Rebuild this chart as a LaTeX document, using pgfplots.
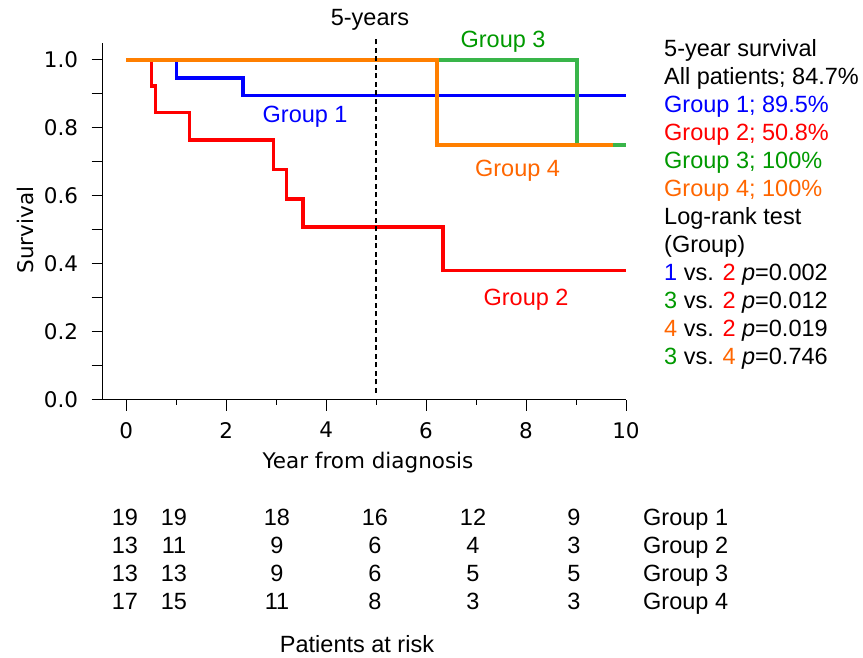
\documentclass[border=0pt]{standalone}
\usepackage{fontspec}
\setmainfont{Liberation Sans}
\newfontfamily\tickfont{DejaVu Sans}
\usepackage{pgfplots}
\pgfplotsset{compat=1.18}
\definecolor{cblue}{RGB}{0,0,255}
\definecolor{cred}{RGB}{255,0,0}
\definecolor{cgreen}{RGB}{57,181,74}
\definecolor{corange}{RGB}{255,127,0}
\definecolor{tgreen}{RGB}{0,153,0}
\definecolor{torange}{RGB}{255,102,0}
\newcommand{\lf}{\fontsize{23.5}{28}\selectfont}
\newcommand{\tf}{\tickfont\fontsize{21.5}{25}\selectfont}
\begin{document}
\begin{tikzpicture}[x=1pt,y=1pt]
\useasboundingbox (0,0) rectangle (863,658);
\begin{axis}[
  at={(102.7pt,258.3pt)}, anchor=south west,
  scale only axis, width=523.3pt, height=356.7pt,
  xmin=-0.47, xmax=10, ymin=0, ymax=1.05,
  axis x line=bottom, axis y line=left,
  axis line style={-, line width=1pt, black},
  tick style={black, line width=1pt},
  tick align=outside,
  major tick length=11pt, minor tick length=5pt,
  xtick={0,2,4,6,8,10}, minor xtick={1,3,5,7,9},
  ytick={0,0.2,0.4,0.6,0.8,1.0},
  extra y ticks={0.1,0.3,0.5,0.7,0.9}, extra y tick labels={},
  yticklabel style={xshift=-10pt, /pgf/number format/.cd, fixed, fixed zerofill, precision=1},
  xticklabel style={yshift=-8pt},
  ticklabel style={font=\tf},
  /pgf/number format/assume math mode=true,
  clip=false,
]
\addplot[cred, line width=3.3pt, const plot] coordinates {
  (0,1) (0.51,0.923) (0.58,0.846) (1.26,0.764) (2.95,0.677) (3.21,0.591) (3.54,0.508) (6.34,0.381) (10,0.381)};
\addplot[cblue, line width=3.3pt, const plot] coordinates {
  (0,1) (1.01,0.947) (2.34,0.895) (10,0.895)};
\addplot[cgreen, line width=3.3pt, const plot] coordinates {
  (0,1) (9.02,0.75) (10,0.75)};
\addplot[corange, line width=3.3pt, const plot] coordinates {
  (0,1) (6.22,0.75) (9.73,0.75)};
\addplot[black, line width=1.3pt, dash pattern=on 5pt off 3.5pt] coordinates {(5,0.02) (5,1.07)};
\node[text=cblue, font=\lf] at (axis cs:3.58,0.832) {Group 1};
\node[text=cred, font=\lf] at (axis cs:8.0,0.295) {Group 2};
\node[text=tgreen, font=\lf] at (axis cs:7.54,1.055) {Group 3};
\node[text=torange, font=\lf] at (axis cs:7.83,0.674) {Group 4};
\end{axis}
% axis labels
\node[font=\tf] at (368,195) {Year from diagnosis};
\node[font=\tf, rotate=90] at (25,428) {Survival};
\node[font=\lf] at (370,638) {5-years};
% legend text
\begin{scope}[every node/.style={anchor=base west, font=\lf, inner sep=0pt}]
\node at (664,658-57) {5-year survival};
\node at (664,658-85) {All patients; 84.7\%};
\node[text=cblue] at (664,658-113) {Group 1; 89.5\%};
\node[text=cred] at (664,658-141) {Group 2; 50.8\%};
\node[text=tgreen] at (664,658-169) {Group 3; 100\%};
\node[text=torange] at (664,658-197) {Group 4; 100\%};
\node at (664,658-225) {Log-rank test};
\node at (664,658-253) {(Group)};
\node at (664,658-281) {{\color{cblue}1} vs. {\color{cred}2} \textit{p}=0.002};
\node at (664,658-309) {{\color{tgreen}3} vs. {\color{cred}2} \textit{p}=0.012};
\node at (664,658-337) {{\color{torange}4} vs. {\color{cred}2} \textit{p}=0.019};
\node at (664,658-365) {{\color{tgreen}3} vs. {\color{torange}4} \textit{p}=0.746};
\end{scope}
% patients at risk table
\begin{scope}[every node/.style={anchor=base, font=\lf, inner sep=0pt}]
\foreach \yy/\a/\b/\c/\d/\e/\f/\g in {526/19/19/18/16/12/9/1, 554/13/11/9/6/4/3/2, 582/13/13/9/6/5/5/3, 610/17/15/11/8/3/3/4} {
  \node at (125,658-\yy) {\a};
  \node at (174,658-\yy) {\b};
  \node at (277,658-\yy) {\c};
  \node at (375,658-\yy) {\d};
  \node at (473,658-\yy) {\e};
  \node at (574,658-\yy) {\f};
  \node[anchor=base west] at (643,658-\yy) {Group \g};
}
\node at (357,658-653) {Patients at risk};
\end{scope}
\end{tikzpicture}
\end{document}
